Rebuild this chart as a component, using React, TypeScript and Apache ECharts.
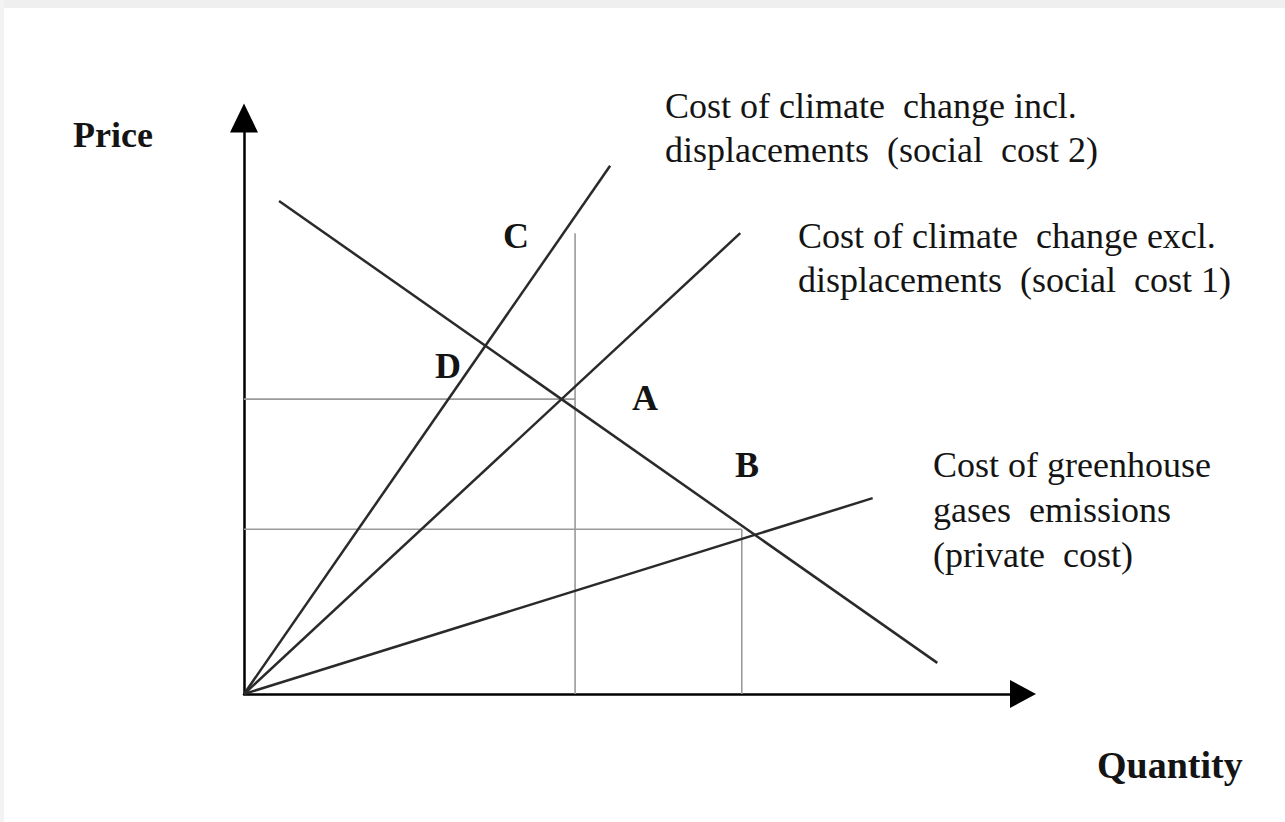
import React, { useEffect, useRef } from "react";
import * as echarts from "echarts";

// Quantity (x) and Price (y) in arbitrary units 0..100
const demandCurve: [number, number][] = [[4.5, 85.6], [89.0, 5.4]];
const socialCost2: [number, number][] = [[0, 0], [47.0, 91.7]];
const socialCost1: [number, number][] = [[0, 0], [63.7, 80.0]];
const privateCost: [number, number][] = [[0, 0], [80.7, 34.0]];

const guideA_vertical: [number, number][] = [[42.5, 0], [42.5, 80.0]];
const guideA_horizontal: [number, number][] = [[0, 51.2], [42.5, 51.2]];
const guideB_vertical: [number, number][] = [[63.9, 0], [63.9, 28.6]];
const guideB_horizontal: [number, number][] = [[0, 28.6], [63.9, 28.6]];

const labelSocial2 = ["Cost of climate  change incl.", "displacements  (social  cost 2)"];
const labelSocial1 = ["Cost of climate  change excl.", "displacements  (social  cost 1)"];
const labelPrivate = ["Cost of greenhouse", "gases  emissions", "(private  cost)"];
const pointLetters = ["C", "D", "A", "B"];
const axisNames = ["Price", "Quantity"];

const FONT = "'Liberation Serif', 'DejaVu Serif', serif";

export default function App() {
  const ref = useRef<HTMLDivElement>(null);

  useEffect(() => {
    if (!ref.current) return;
    const chart = echarts.init(ref.current, null, { renderer: "svg" });

    const mainLine = (name: string, data: [number, number][]) => ({
      name,
      type: "line",
      data,
      symbol: "none",
      silent: true,
      lineStyle: { color: "#2a2a2a", width: 2.5 },
    });
    const guideLine = (name: string, data: [number, number][]) => ({
      name,
      type: "line",
      data,
      symbol: "none",
      silent: true,
      lineStyle: { color: "#9a9a9a", width: 1.6 },
    });

    const textEl = (text: string, x: number, y: number, bold = false, size = 36) => ({
      type: "text",
      x,
      y,
      silent: true,
      style: {
        text,
        fill: "#141414",
        font: `${bold ? "bold " : ""}${size}px ${FONT}`,
        align: "left",
        verticalAlign: "middle",
      },
    });

    const graphics: any[] = [
      { type: "rect", shape: { x: 0, y: 0, width: 1285, height: 8 }, style: { fill: "#efefef" }, silent: true },
      { type: "rect", shape: { x: 0, y: 0, width: 4, height: 822 }, style: { fill: "#f3f3f3" }, silent: true },
      textEl(labelSocial2[0], 665, 106),
      textEl(labelSocial2[1], 665, 150),
      textEl(labelSocial1[0], 798, 236),
      textEl(labelSocial1[1], 798, 280),
      textEl(labelPrivate[0], 933, 465),
      textEl(labelPrivate[1], 933, 510),
      textEl(labelPrivate[2], 933, 555),
      textEl(axisNames[0], 73, 135, true),
      textEl(axisNames[1], 1097, 765, true, 38),
      textEl(pointLetters[0], 503, 236, true),
      textEl(pointLetters[1], 435, 366, true),
      textEl(pointLetters[2], 632, 398, true),
      textEl(pointLetters[3], 735, 465, true),
    ];

    chart.setOption({
      animation: false,
      backgroundColor: "#ffffff",
      grid: { left: 244, right: 262, top: 118, bottom: 128, containLabel: false },
      xAxis: {
        type: "value",
        min: 0,
        max: 100,
        splitLine: { show: false },
        axisTick: { show: false },
        axisLabel: { show: false },
        axisLine: {
          show: true,
          onZero: false,
          symbol: ["none", "triangle"],
          symbolSize: [28, 26],
          lineStyle: { color: "#000", width: 2.5 },
        },
      },
      yAxis: {
        type: "value",
        min: 0,
        max: 100,
        splitLine: { show: false },
        axisTick: { show: false },
        axisLabel: { show: false },
        axisLine: {
          show: true,
          onZero: false,
          symbol: ["none", "triangle"],
          symbolSize: [28, 29],
          lineStyle: { color: "#000", width: 2.5 },
        },
      },
      series: [
        guideLine("guideA_vertical", guideA_vertical),
        guideLine("guideA_horizontal", guideA_horizontal),
        guideLine("guideB_vertical", guideB_vertical),
        guideLine("guideB_horizontal", guideB_horizontal),
        mainLine("demand", demandCurve),
        mainLine("socialCost2", socialCost2),
        mainLine("socialCost1", socialCost1),
        mainLine("privateCost", privateCost),
      ],
      graphic: graphics,
    });

    return () => chart.dispose();
  }, []);

  return (
    <div
      ref={ref}
      style={{ position: "fixed", left: 0, top: 0, width: 1285, height: 822 }}
    />
  );
}
